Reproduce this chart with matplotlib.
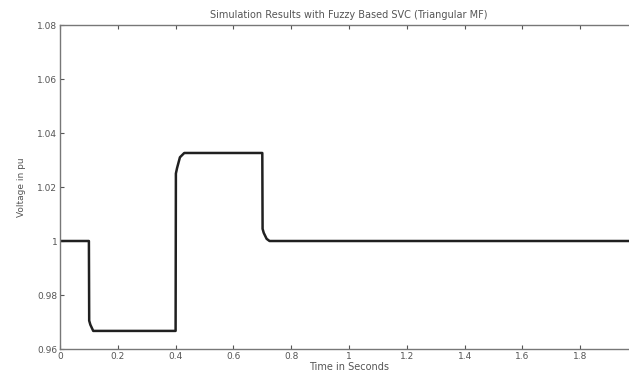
import matplotlib.pyplot as plt

# 電圧応答 (Fuzzy SVC, 三角形MF) -- 図から読み取った値
time_s = [0.0, 0.1, 0.101, 0.105, 0.115, 0.4, 0.401, 0.405, 0.415, 0.43,
          0.7, 0.701, 0.705, 0.715, 0.725, 2.0]
voltage_pu = [1.0, 1.0, 0.9705, 0.969, 0.9667, 0.9667, 1.025, 1.027, 1.031, 1.0326,
              1.0326, 1.0045, 1.003, 1.0008, 1.0, 1.0]

x_ticks = [0, 0.2, 0.4, 0.6, 0.8, 1, 1.2, 1.4, 1.6, 1.8]
x_labels = ['0', '0.2', '0.4', '0.6', '0.8', '1', '1.2', '1.4', '1.6', '1.8']
y_ticks = [0.96, 0.98, 1.0, 1.02, 1.04, 1.06, 1.08]
y_labels = ['0.96', '0.98', '1', '1.02', '1.04', '1.06', '1.08']

plt.rcParams['font.family'] = 'DejaVu Sans'

fig = plt.figure(figsize=(6.29, 3.76), dpi=100)
ax = fig.add_axes([60 / 629, 1 - 349 / 376, 578 / 629, 324 / 376])

ax.plot(time_s, voltage_pu, color='#202020', linewidth=1.8)

ax.set_xlim(0, 2)
ax.set_ylim(0.96, 1.08)
ax.set_xticks(x_ticks)
ax.set_xticklabels(x_labels)
ax.set_yticks(y_ticks)
ax.set_yticklabels(y_labels)
ax.tick_params(direction='in', length=3, labelsize=6.5, colors='#555555',
               top=True, right=True, pad=2)
for s in ax.spines.values():
    s.set_color('#777777')
    s.set_linewidth(1.0)

ax.set_title('Simulation Results with Fuzzy Based SVC (Triangular MF)',
             fontsize=7, color='#555555', pad=5)
ax.set_xlabel('Time in Seconds', fontsize=7, color='#555555', labelpad=1)
ax.set_ylabel('Voltage in pu', fontsize=6.5, color='#555555', labelpad=8)

fig.savefig('out.png', dpi=100)
